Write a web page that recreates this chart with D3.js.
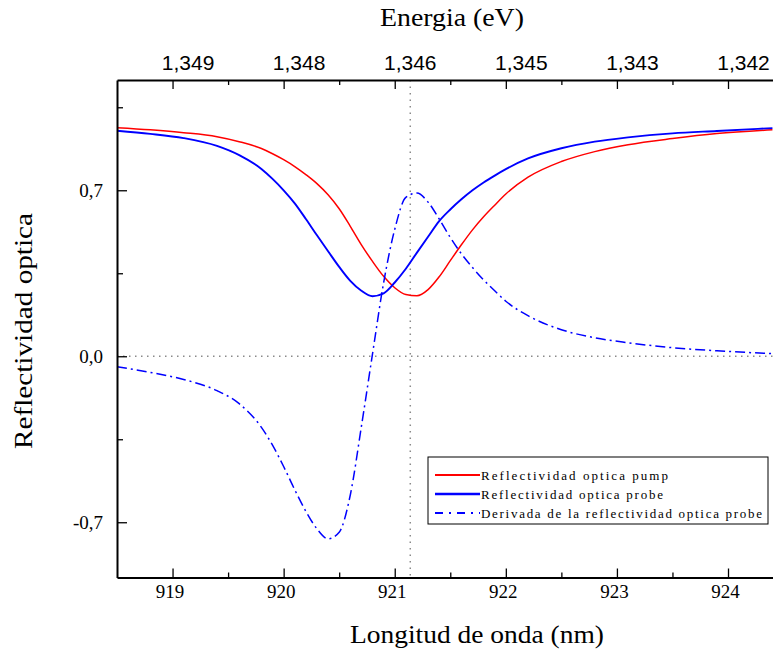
<!DOCTYPE html>
<html>
<head>
<meta charset="utf-8">
<script src="https://cdn.jsdelivr.net/npm/d3@7"></script>
<style>
  html, body { margin: 0; padding: 0; background: #fff; }
  svg { display: block; }
</style>
</head>
<body>
<svg id="chart" width="773" height="655"></svg>
<script>
// Wavelength grid (nm) shared by the three series
const wavelength = [918.5, 918.8, 919.1, 919.4, 919.6, 919.8, 919.9, 920.0, 920.1, 920.2,
  920.3, 920.4, 920.5, 920.6, 920.7, 920.8, 920.9, 921.0, 921.1, 921.2,
  921.3, 921.4, 921.5, 921.6, 921.7, 921.8, 921.9, 922.0, 922.2, 922.5,
  922.8, 923.1, 923.5, 923.9, 924.4];

// Optical reflectivity of the pump beam
const pump = [0.964, 0.955, 0.943, 0.926, 0.905, 0.876, 0.854, 0.829, 0.800, 0.766,
  0.728, 0.681, 0.622, 0.548, 0.470, 0.400, 0.337, 0.289, 0.260, 0.255,
  0.281, 0.335, 0.403, 0.470, 0.533, 0.588, 0.637, 0.684, 0.755, 0.821,
  0.863, 0.892, 0.918, 0.939, 0.955];

// Optical reflectivity of the probe beam
const probe = [0.951, 0.938, 0.920, 0.887, 0.848, 0.790, 0.748, 0.700, 0.645, 0.579,
  0.510, 0.443, 0.377, 0.318, 0.276, 0.253, 0.265, 0.311, 0.369, 0.437,
  0.504, 0.570, 0.619, 0.662, 0.700, 0.733, 0.762, 0.789, 0.834, 0.877,
  0.905, 0.923, 0.940, 0.950, 0.962];

// Derivative of the probe reflectivity
const derivative = [-0.044, -0.068, -0.098, -0.145, -0.200, -0.300, -0.375, -0.465, -0.563, -0.654,
  -0.728, -0.770, -0.742, -0.585, -0.296, 0.010, 0.310, 0.535, 0.670, 0.688,
  0.650, 0.579, 0.501, 0.432, 0.374, 0.322, 0.276, 0.232, 0.171, 0.112,
  0.078, 0.057, 0.036, 0.023, 0.011];

// Axis ticks and labels
const xTicks = [919, 920, 921, 922, 923, 924];
const xMinorTicks = [919.5, 920.5, 921.5, 922.5, 923.5];
const energyLabels = ["1,349", "1,348", "1,346", "1,345", "1,343", "1,342"];
const yTicks = [-0.7, 0, 0.7];
const yMinorTicks = [-0.35, 0.35, 1.05];
const yTickLabels = ["-0,7", "0,0", "0,7"];
const markerWavelength = 921.14;

const seriesNames = ["Reflectividad optica pump", "Reflectividad optica probe",
  "Derivada de la reflectividad optica probe"];
const seriesColors = ["#ff0000", "#0000ff", "#0000ff"];
const seriesWidths = [1.5, 1.9, 1.5];
const seriesDash = [null, null, "10,4,2,4"];
const seriesValues = [pump, probe, derivative];

const SERIF = '"Liberation Serif"';
const SANS = '"Liberation Sans"';

const svg = d3.select("#chart");
const plotLeft = 117, plotRight = 773, plotTop = 80, plotBottom = 577.5;

const x = d3.scaleLinear().domain([918.5, 924.405]).range([plotLeft, plotRight]);
const y = d3.scaleLinear().domain([-0.933, 1.165]).range([plotBottom, plotTop]);

svg.append("defs").append("clipPath").attr("id", "plotClip")
  .append("rect").attr("x", plotLeft).attr("y", plotTop)
  .attr("width", plotRight - plotLeft).attr("height", plotBottom - plotTop);

const plot = svg.append("g").attr("clip-path", "url(#plotClip)");

// Dotted reference lines at zero and at the pump minimum
plot.append("line")
  .attr("x1", plotLeft).attr("x2", plotRight).attr("y1", y(0)).attr("y2", y(0))
  .attr("stroke", "#8a8a8a").attr("stroke-width", 1.5).attr("stroke-dasharray", "1.5,4.5");
plot.append("line")
  .attr("x1", x(markerWavelength)).attr("x2", x(markerWavelength))
  .attr("y1", plotTop).attr("y2", plotBottom)
  .attr("stroke", "#8a8a8a").attr("stroke-width", 1.5).attr("stroke-dasharray", "1.5,5");

// Curves
seriesValues.forEach((vals, i) => {
  const line = d3.line()
    .x((d, j) => x(wavelength[j]))
    .y(d => y(d))
    .curve(d3.curveMonotoneX);
  plot.append("path")
    .datum(vals)
    .attr("d", line)
    .attr("fill", "none")
    .attr("stroke", seriesColors[i])
    .attr("stroke-width", seriesWidths[i])
    .attr("stroke-dasharray", seriesDash[i]);
});

function styleAxis(g) {
  g.select(".domain").attr("stroke", "#000").attr("stroke-width", 2);
  g.selectAll(".tick line").attr("stroke", "#000").attr("stroke-width", 1.3);
}

function minorTicks(axisGen, translate) {
  svg.append("g").attr("transform", translate)
    .call(axisGen)
    .call(g => g.select(".domain").remove())
    .selectAll(".tick line").attr("stroke", "#000").attr("stroke-width", 1.3);
}

// Bottom axis (wavelength)
const bottomAxis = svg.append("g").attr("transform", `translate(0,${plotBottom})`)
  .call(d3.axisBottom(x).tickValues(xTicks).tickFormat(d3.format("d"))
    .tickSizeInner(-9).tickSizeOuter(0).tickPadding(7));
styleAxis(bottomAxis);
bottomAxis.selectAll(".tick text")
  .style("font-family", SERIF).style("font-size", "19px").attr("fill", "#000").attr("x", -3);
minorTicks(d3.axisBottom(x).tickValues(xMinorTicks).tickFormat("").tickSizeInner(-5).tickSizeOuter(0),
  `translate(0,${plotBottom})`);

// Top axis (energy)
const topAxis = svg.append("g").attr("transform", `translate(0,${plotTop})`)
  .call(d3.axisTop(x).tickValues(xTicks).tickFormat((d, i) => energyLabels[i])
    .tickSizeInner(-9).tickSizeOuter(0).tickPadding(10));
styleAxis(topAxis);
topAxis.selectAll(".tick text")
  .style("font-family", SANS).style("font-size", "21px").attr("fill", "#000").attr("x", 15);
minorTicks(d3.axisTop(x).tickValues(xMinorTicks).tickFormat("").tickSizeInner(-5).tickSizeOuter(0),
  `translate(0,${plotTop})`);

// Left axis (reflectivity)
const leftAxis = svg.append("g").attr("transform", `translate(${plotLeft},0)`)
  .call(d3.axisLeft(y).tickValues(yTicks).tickFormat((d, i) => yTickLabels[i])
    .tickSizeInner(-10).tickSizeOuter(0).tickPadding(14));
styleAxis(leftAxis);
leftAxis.selectAll(".tick text")
  .style("font-family", SERIF).style("font-size", "19px").attr("fill", "#000");
minorTicks(d3.axisLeft(y).tickValues(yMinorTicks).tickFormat("").tickSizeInner(-6).tickSizeOuter(0),
  `translate(${plotLeft},0)`);

// Axis titles
svg.append("text")
  .style("font-family", SERIF).style("font-size", "26px")
  .attr("x", 477).attr("y", 643).attr("text-anchor", "middle")
  .attr("textLength", 254).attr("lengthAdjust", "spacingAndGlyphs")
  .text("Longitud de onda (nm)");
svg.append("text")
  .style("font-family", SERIF).style("font-size", "26px")
  .attr("x", 452).attr("y", 26).attr("text-anchor", "middle")
  .attr("textLength", 144).attr("lengthAdjust", "spacingAndGlyphs")
  .text("Energia (eV)");
svg.append("text")
  .style("font-family", SERIF).style("font-size", "26px")
  .attr("transform", "translate(32,331) rotate(-90)")
  .attr("text-anchor", "middle")
  .attr("textLength", 236).attr("lengthAdjust", "spacingAndGlyphs")
  .text("Reflectividad optica");

// Legend
const legend = svg.append("g");
legend.append("rect")
  .attr("x", 428).attr("y", 457).attr("width", 340).attr("height", 67)
  .attr("fill", "#fff").attr("stroke", "#000").attr("stroke-width", 1);
const rowY = [475, 494, 513];
const textLengths = [187, 182, 281];
seriesNames.forEach((name, i) => {
  legend.append("line")
    .attr("x1", 435).attr("x2", 480).attr("y1", rowY[i]).attr("y2", rowY[i])
    .attr("stroke", seriesColors[i]).attr("stroke-width", seriesWidths[i] + 0.4)
    .attr("stroke-dasharray", seriesDash[i] ? "8,6,2,6" : null);
  legend.append("text")
    .style("font-family", SERIF).style("font-size", "13px")
    .attr("x", 481).attr("y", rowY[i] + 4.5)
    .attr("textLength", textLengths[i]).attr("lengthAdjust", "spacing")
    .text(name);
});
</script>
</body>
</html>
